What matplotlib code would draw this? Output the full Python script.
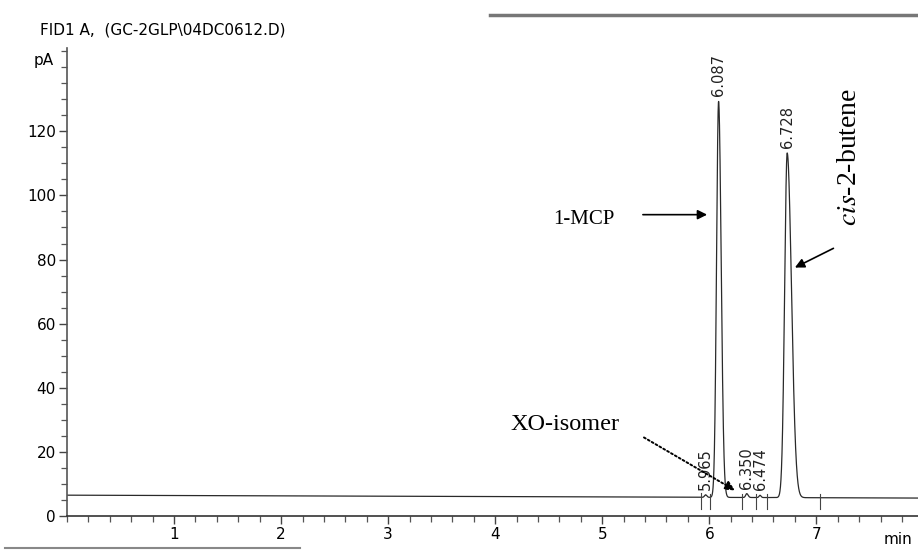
import numpy as np
import matplotlib.pyplot as plt
from matplotlib.lines import Line2D
from matplotlib.ticker import MultipleLocator

# retention times (min), heights above baseline (pA), widths (min, left/right)
rt = [5.965, 6.087, 6.350, 6.474, 6.728]
height = [0.8, 123.5, 1.2, 0.7, 107.5]
sig_left = [0.010, 0.019, 0.010, 0.009, 0.024]
sig_right = [0.012, 0.024, 0.013, 0.010, 0.040]
rt_labels = ["5.965", "6.087", "6.350", "6.474", "6.728"]

# baseline level at start and end of the run (pA)
base_start, base_end = 6.5, 5.6
# integration event marks (min)
marks = [5.92, 6.01, 6.31, 6.44, 6.54, 7.03]

t = np.linspace(0, 7.95, 16000)
base = base_start + (base_end - base_start) * t / t[-1]
sig = base.copy()
for r, h, sl, sr in zip(rt, height, sig_left, sig_right):
    s = np.where(t < r, sl, sr)
    sig += h * np.exp(-0.5 * ((t - r) / s) ** 2)


def base_at(x):
    return base_start + (base_end - base_start) * x / t[-1]


fig = plt.figure(figsize=(9.18, 5.5), dpi=100)
ax = fig.add_axes([0.073, 0.0618, 0.927, 0.851])
ax.plot(t, sig, color="#2a2a2a", lw=0.9)
ax.set_xlim(0, 7.95)
ax.set_ylim(0, 146)

for s in ["top", "right"]:
    ax.spines[s].set_visible(False)
ax.spines["left"].set_color("#555555")
ax.spines["bottom"].set_color("#333333")
ax.spines["left"].set_linewidth(1.2)
ax.spines["bottom"].set_linewidth(1.2)

ax.set_xticks(range(1, 8))
ax.xaxis.set_minor_locator(MultipleLocator(0.2))
ax.set_yticks(range(0, 121, 20))
ax.yaxis.set_minor_locator(MultipleLocator(5))
ax.tick_params(which="major", length=6, width=1, color="#444444")
ax.tick_params(which="minor", length=4, width=0.9, color="#555555")
ax.tick_params(axis="both", labelsize=11, pad=2)

# peak labels
for r, h, lab in zip(rt, height, rt_labels):
    ytop = base_at(r) + h + 1.6
    ax.text(r, ytop, lab, rotation=90, ha="center", va="bottom",
            fontsize=10.5, color="#222222")

for m in marks:
    b = base_at(m)
    ax.plot([m, m], [b - 3.5, b + 1.2], color="#444444", lw=0.8)

# compound annotations
serif = "Liberation Serif"
ax.text(4.83, 92.5, "1-MCP", fontsize=15, family=serif, ha="center", va="center")
ax.annotate("", xy=(5.98, 94), xytext=(5.38, 94),
            arrowprops=dict(arrowstyle="-|>", color="black", lw=1.2,
                            mutation_scale=14, shrinkA=0, shrinkB=0))
ax.text(7.31, 112, r"$\it{cis}$-2-butene", fontsize=20, family=serif,
        rotation=90, ha="center", va="center", math_fontfamily="stix")
ax.annotate("", xy=(6.80, 77.5), xytext=(7.16, 83.5),
            arrowprops=dict(arrowstyle="-|>", color="black", lw=1.2,
                            mutation_scale=14, shrinkA=0, shrinkB=0))
ax.text(4.65, 28.5, "XO-isomer", fontsize=17.5, family=serif, ha="center", va="center")
ax.annotate("", xy=(6.24, 8.0), xytext=(5.39, 24.5),
            arrowprops=dict(arrowstyle="-|>", color="black", lw=1.4,
                            linestyle=(0, (1, 1.3)), mutation_scale=14,
                            shrinkA=0, shrinkB=0))

fig.text(40 / 918, 1 - 30 / 550, r"FID1 A,  (GC-2GLP\04DC0612.D)", fontsize=11,
         va="center")
fig.text(34 / 918, 1 - 60 / 550, "pA", fontsize=11, va="center")
fig.text(912 / 918, 1 - 540 / 550, "min", fontsize=11, va="center", ha="right")

# stray marks of the printout
fig.add_artist(Line2D([490 / 918, 1.0], [1 - 15 / 550, 1 - 15 / 550],
                      color="#777777", lw=2.5))
fig.add_artist(Line2D([5 / 918, 300 / 918], [1 - 548 / 550, 1 - 548 / 550],
                      color="#888888", lw=1.5))

fig.savefig("out.png", dpi=100)
